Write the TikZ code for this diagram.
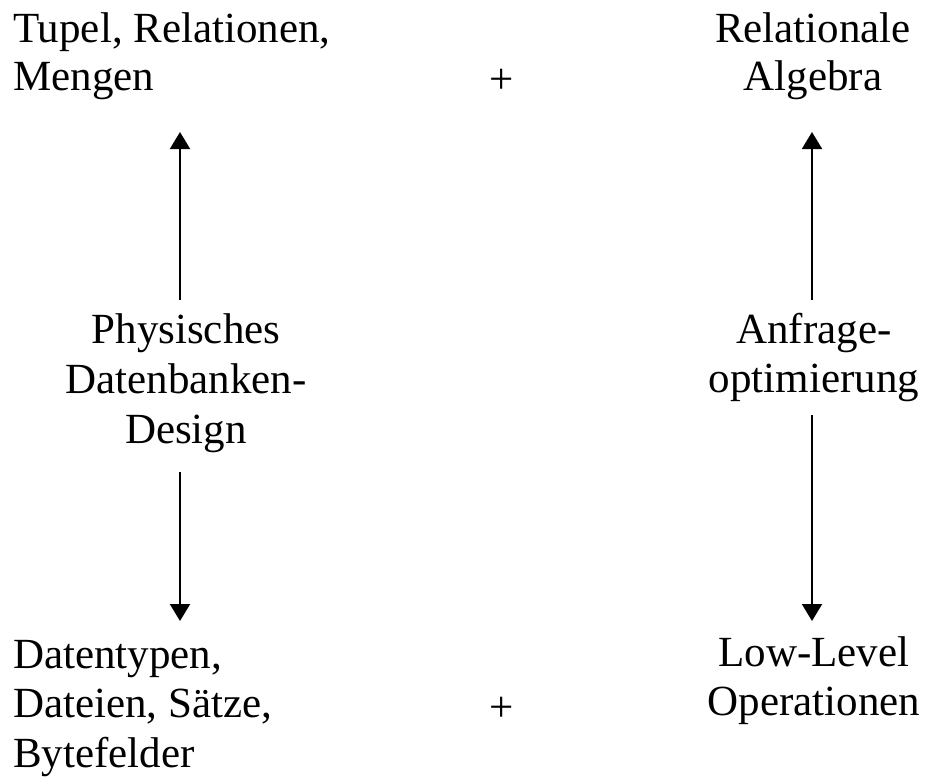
\documentclass[tikz,border=0pt]{standalone}
\usepackage{fontspec}
\setmainfont{Liberation Serif}
\usetikzlibrary{arrows.meta}
\begin{document}
\begin{tikzpicture}[x=1pt,y=-1pt,
  label/.style={inner sep=0pt,font=\fontsize{43}{49}\selectfont},
  lefttext/.style={label,align=left,anchor=base west},
  midtext/.style={label,align=center,anchor=base},
  conn/.style={line width=2pt,-{Triangle[width=20pt,length=17pt]}}]
\useasboundingbox (0,0) rectangle (927,780);

% top row (anchors sit on the baseline of the last line)
\node[lefttext,font=\fontsize{43}{48}\selectfont] (tl) at (13,90) {Tupel, Relationen,\\Mengen};
\node[midtext] (plustop) at (502,93) {+};
\node[midtext,font=\fontsize{43}{48}\selectfont] (tr) at (813,90) {Relationale\\Algebra};

% middle labels
\node[midtext,font=\fontsize{43}{50}\selectfont] (design) at (186,443) {Physisches\\Datenbanken-\\Design};
\node[midtext] (opt) at (814,392) {Anfrage-\\optimierung};

% bottom row
\node[lefttext,font=\fontsize{43}{49.5}\selectfont] (bl) at (13,767) {Datentypen,\\Dateien, Sätze,\\Bytefelder};
\node[midtext] (plusbot) at (502,721) {+};
\node[midtext] (br) at (814,715) {Low-Level\\Operationen};

% arrow end points
\coordinate (dTop) at (180,300);
\coordinate (dTip) at (180,132);
\coordinate (dBot) at (180,472);
\coordinate (dEnd) at (180,621);
\coordinate (oTop) at (812,300);
\coordinate (oTip) at (812,132);
\coordinate (oBot) at (812,415);
\coordinate (oEnd) at (812,621);

\draw[conn] (dTop) -- (dTip);
\draw[conn] (dBot) -- (dEnd);
\draw[conn] (oTop) -- (oTip);
\draw[conn] (oBot) -- (oEnd);
\end{tikzpicture}
\end{document}
